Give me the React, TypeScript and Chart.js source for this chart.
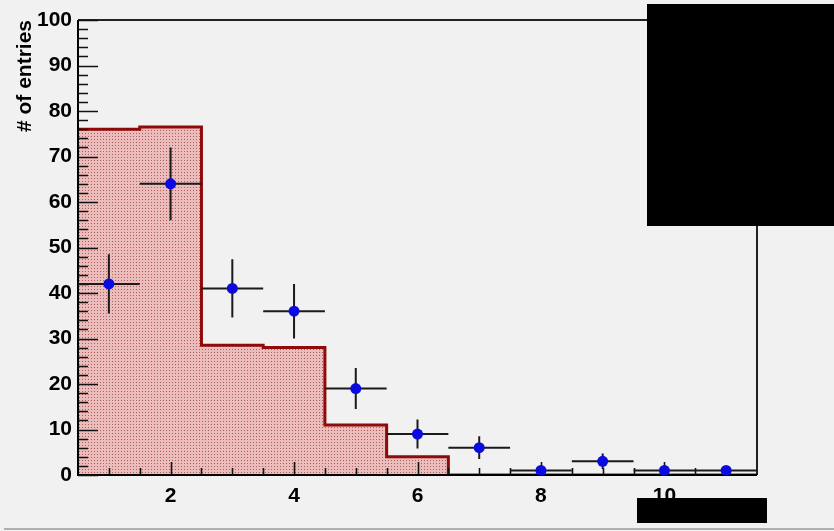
import { useEffect, useRef } from "react";
import { Chart, registerables } from "chart.js";

Chart.register(...registerables);

// ---- data ----
const binCenters = [1, 2, 3, 4, 5, 6, 7, 8, 9, 10, 11];
const histValues = [76, 76.5, 28.5, 28, 11, 4, 0, 0, 0, 0, 0];
const dataValues = [42, 64, 41, 36, 19, 9, 6, 1, 3, 1, 1];
const dataErrors = [6.5, 8, 6.4, 6, 4.5, 3.2, 2.5, 1, 1.7, 1, 1];
const binHalfWidths = [0.5, 0.5, 0.5, 0.5, 0.5, 0.5, 0.5, 0.5, 0.5, 0.5, 0.5];
const xTickLabels = [2, 4, 6, 8, 10];
const yTickLabels = [0, 10, 20, 30, 40, 50, 60, 70, 80, 90, 100];
const xMinorTicks = [1, 1.5, 2, 2.5, 3, 3.5, 4, 4.5, 5, 5.5, 6, 6.5, 7, 7.5, 8, 8.5, 9, 9.5, 10, 10.5, 11];
const yMinorTicks = [2, 4, 6, 8, 12, 14, 16, 18, 22, 24, 26, 28, 32, 34, 36, 38, 42, 44, 46, 48, 52, 54, 56, 58, 62, 64, 66, 68, 72, 74, 76, 78, 82, 84, 86, 88, 92, 94, 96, 98];
const yTitle = "# of entries";

const FONT = "'Liberation Sans', Arial, Helvetica, sans-serif";

export default function App() {
  const ref = useRef<HTMLCanvasElement | null>(null);

  useEffect(() => {
    const canvas = ref.current;
    if (!canvas) return;

    // hatch pattern for histogram fill
    const pc = document.createElement("canvas");
    pc.width = 3;
    pc.height = 3;
    const pctx = pc.getContext("2d")!;
    pctx.fillStyle = "rgb(234,188,188)";
    pctx.fillRect(0, 0, 3, 3);
    pctx.fillStyle = "rgb(178,92,92)";
    pctx.fillRect(1, 1, 1, 1);
    const pattern = canvas.getContext("2d")!.createPattern(pc, "repeat")!;

    const edges = binCenters.map((c, i) => c - binHalfWidths[i]);
    const histData = edges.map((x, i) => ({ x, y: histValues[i] }));
    const last = binCenters.length - 1;
    histData.push({ x: binCenters[last] + binHalfWidths[last], y: histValues[last] });

    const pointData = binCenters.map((x, i) => ({ x, y: dataValues[i] }));

    const axesAndErrors = {
      id: "axesAndErrors",
      beforeDatasetDraw(chart: any, args: any) {
        if (args.index !== 0) return;
        const ctx = chart.ctx;
        const xs = chart.scales.x;
        const ys = chart.scales.y;
        const { left, right, top, bottom } = chart.chartArea;
        ctx.save();
        // frame
        ctx.strokeStyle = "#222";
        ctx.lineWidth = 2;
        ctx.beginPath();
        ctx.moveTo(left, top);
        ctx.lineTo(right, top);
        ctx.lineTo(right, bottom);
        ctx.stroke();
        ctx.strokeStyle = "#000";
        ctx.beginPath();
        ctx.moveTo(left, top);
        ctx.lineTo(left, bottom);
        ctx.lineTo(right, bottom);
        ctx.stroke();
        // ticks
        ctx.lineWidth = 1.6;
        ctx.strokeStyle = "#111";
        ctx.beginPath();
        yTickLabels.forEach((v) => {
          const y = Math.round(ys.getPixelForValue(v)) + 0.5;
          ctx.moveTo(left, y);
          ctx.lineTo(left + 20, y);
        });
        yMinorTicks.forEach((v) => {
          const y = Math.round(ys.getPixelForValue(v)) + 0.5;
          ctx.moveTo(left, y);
          ctx.lineTo(left + 10, y);
        });
        xMinorTicks.forEach((v) => {
          const x = Math.round(xs.getPixelForValue(v)) + 0.5;
          const len = xTickLabels.includes(v) ? 13 : 7;
          ctx.moveTo(x, bottom);
          ctx.lineTo(x, bottom - len);
        });
        ctx.stroke();
        // error bars
        ctx.strokeStyle = "#1a1a1a";
        ctx.lineWidth = 2;
        ctx.beginPath();
        binCenters.forEach((c, i) => {
          const v = dataValues[i];
          const e = dataErrors[i];
          const px = xs.getPixelForValue(c);
          const py = ys.getPixelForValue(v);
          ctx.moveTo(xs.getPixelForValue(c - binHalfWidths[i]), py);
          ctx.lineTo(xs.getPixelForValue(c + binHalfWidths[i]), py);
          ctx.moveTo(px, ys.getPixelForValue(v + e));
          ctx.lineTo(px, ys.getPixelForValue(Math.max(0, v - e)));
        });
        ctx.stroke();
        ctx.restore();
      },
      afterDraw(chart: any) {
        const ctx = chart.ctx;
        ctx.save();
        // redaction boxes present in the reference image
        ctx.fillStyle = "#000";
        ctx.fillRect(647, 4, 187, 222);
        ctx.fillRect(637, 498, 130, 25);
        // page bottom edge line
        ctx.fillStyle = "rgb(175,175,175)";
        ctx.fillRect(4, 528, 830, 2);
        ctx.restore();
      },
    };

    const chart = new Chart(canvas, {
      type: "scatter",
      data: {
        datasets: [
          {
            type: "scatter",
            data: pointData,
            backgroundColor: "rgb(10,10,225)",
            borderWidth: 0,
            pointRadius: 5.5,
            pointHoverRadius: 5.5,
          },
          {
            type: "line",
            data: histData,
            stepped: "before",
            borderColor: "rgb(145,10,10)",
            borderWidth: 3,
            backgroundColor: pattern as any,
            fill: "origin",
            pointRadius: 0,
            tension: 0,
          } as any,
        ],
      },
      options: {
        animation: false,
        responsive: false,
        events: [],
        layout: { padding: { top: 20, right: 77, bottom: 0, left: 0 } },
        plugins: {
          legend: { display: false },
          tooltip: { enabled: false },
        },
        scales: {
          x: {
            type: "linear",
            min: 0.5,
            max: 11.5,
            grid: { display: false, drawTicks: false },
            border: { display: false },
            afterBuildTicks: (s: any) => {
              s.ticks = xTickLabels.map((v) => ({ value: v }));
            },
            ticks: {
              color: "#000",
              padding: 9,
              font: { family: FONT, size: 21, weight: "bold" },
            },
            afterFit: (s: any) => {
              s.height = 56;
            },
          },
          y: {
            type: "linear",
            min: 0,
            max: 100,
            grid: { display: false, drawTicks: false },
            border: { display: false },
            afterBuildTicks: (s: any) => {
              s.ticks = yTickLabels.map((v) => ({ value: v }));
            },
            ticks: {
              color: "#000",
              padding: 6,
              font: { family: FONT, size: 21, weight: "bold" },
            },
            title: {
              display: true,
              text: yTitle,
              align: "end",
              color: "#000",
              padding: { top: 13, bottom: 0 },
              font: { family: FONT, size: 21, weight: "bold" },
            },
            afterFit: (s: any) => {
              s.width = 78;
            },
          },
        },
      },
      plugins: [axesAndErrors],
    } as any);

    return () => chart.destroy();
  }, []);

  return (
    <div
      style={{
        position: "absolute",
        left: 0,
        top: 0,
        width: 834,
        height: 531,
        background: "#f1f1f1",
      }}
    >
      <canvas ref={ref} width={834} height={531} style={{ display: "block" }} />
    </div>
  );
}
